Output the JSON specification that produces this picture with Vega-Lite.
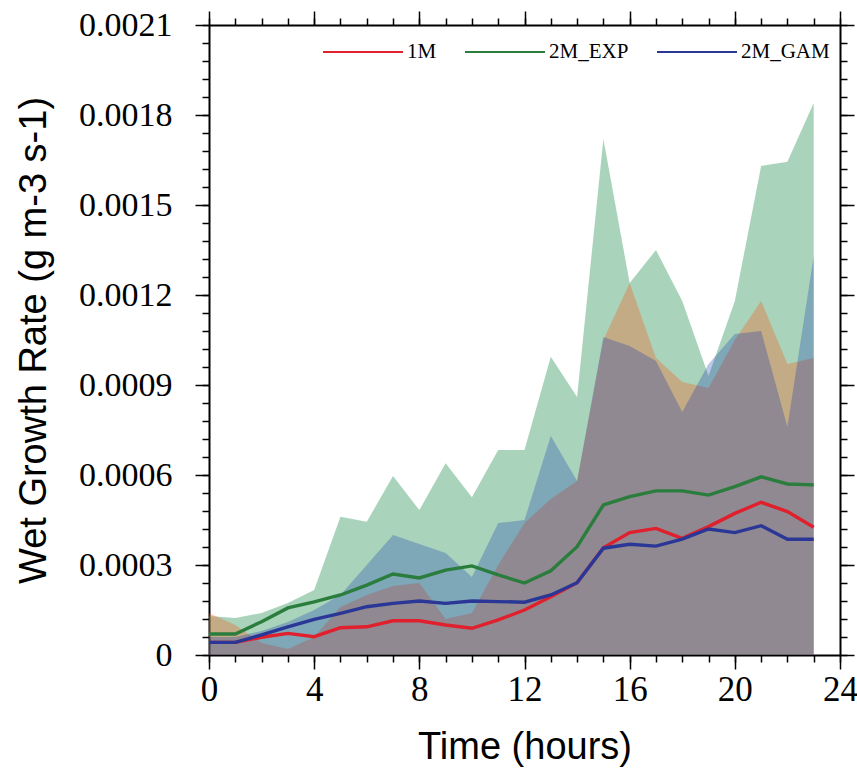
{
  "$schema": "https://vega.github.io/schema/vega-lite/v6.json",
  "width": 631,
  "height": 630,
  "autosize": {"type": "none"},
  "padding": {"left": 209, "top": 25, "right": 17, "bottom": 122},
  "background": "white",
  "config": {
    "view": {"stroke": null},
    "axis": {"grid": false, "domainColor": "black", "tickColor": "black", "domainWidth": 2, "tickWidth": 1.5, "labelColor": "black", "titleColor": "black", "labelFlush": false, "labelOverlap": false}
  },
  "data": {"values": [
    {"t":0,"s":"1M","m":0.000042,"lo":0,"hi":0.00014},
    {"t":1,"s":"1M","m":0.000042,"lo":0,"hi":0.0001},
    {"t":2,"s":"1M","m":0.000059,"lo":0,"hi":0.00004},
    {"t":3,"s":"1M","m":0.000072,"lo":0,"hi":0.00002},
    {"t":4,"s":"1M","m":0.000061,"lo":0,"hi":0.00006},
    {"t":5,"s":"1M","m":0.000091,"lo":0,"hi":0.00016},
    {"t":6,"s":"1M","m":0.000094,"lo":0,"hi":0.0002},
    {"t":7,"s":"1M","m":0.000114,"lo":0,"hi":0.00023},
    {"t":8,"s":"1M","m":0.000114,"lo":0,"hi":0.00024},
    {"t":9,"s":"1M","m":0.0001,"lo":0,"hi":0.00012},
    {"t":10,"s":"1M","m":0.000089,"lo":0,"hi":0.00014},
    {"t":11,"s":"1M","m":0.000117,"lo":0,"hi":0.0003},
    {"t":12,"s":"1M","m":0.00015,"lo":0,"hi":0.00044},
    {"t":13,"s":"1M","m":0.000194,"lo":0,"hi":0.00052},
    {"t":14,"s":"1M","m":0.000241,"lo":0,"hi":0.00058},
    {"t":15,"s":"1M","m":0.000357,"lo":0,"hi":0.00105},
    {"t":16,"s":"1M","m":0.000408,"lo":0,"hi":0.00124},
    {"t":17,"s":"1M","m":0.000422,"lo":0,"hi":0.00099},
    {"t":18,"s":"1M","m":0.000389,"lo":0,"hi":0.00091},
    {"t":19,"s":"1M","m":0.000428,"lo":0,"hi":0.00089},
    {"t":20,"s":"1M","m":0.000472,"lo":0,"hi":0.00105},
    {"t":21,"s":"1M","m":0.000509,"lo":0,"hi":0.00118},
    {"t":22,"s":"1M","m":0.000478,"lo":0,"hi":0.00097},
    {"t":23,"s":"1M","m":0.000426,"lo":0,"hi":0.00099},
    {"t":0,"s":"2M_EXP","m":0.00007,"lo":0,"hi":0.00013},
    {"t":1,"s":"2M_EXP","m":0.00007,"lo":0,"hi":0.000123},
    {"t":2,"s":"2M_EXP","m":0.000111,"lo":0,"hi":0.00014},
    {"t":3,"s":"2M_EXP","m":0.000157,"lo":0,"hi":0.000173},
    {"t":4,"s":"2M_EXP","m":0.000177,"lo":0,"hi":0.000217},
    {"t":5,"s":"2M_EXP","m":0.0002,"lo":0,"hi":0.000461},
    {"t":6,"s":"2M_EXP","m":0.000233,"lo":0,"hi":0.000444},
    {"t":7,"s":"2M_EXP","m":0.00027,"lo":0,"hi":0.000597},
    {"t":8,"s":"2M_EXP","m":0.000257,"lo":0,"hi":0.000483},
    {"t":9,"s":"2M_EXP","m":0.000283,"lo":0,"hi":0.000639},
    {"t":10,"s":"2M_EXP","m":0.000297,"lo":0,"hi":0.000526},
    {"t":11,"s":"2M_EXP","m":0.000267,"lo":0,"hi":0.000683},
    {"t":12,"s":"2M_EXP","m":0.00024,"lo":0,"hi":0.000683},
    {"t":13,"s":"2M_EXP","m":0.000281,"lo":0,"hi":0.000994},
    {"t":14,"s":"2M_EXP","m":0.000361,"lo":0,"hi":0.00086},
    {"t":15,"s":"2M_EXP","m":0.0005,"lo":0,"hi":0.00172},
    {"t":16,"s":"2M_EXP","m":0.000528,"lo":0,"hi":0.00124},
    {"t":17,"s":"2M_EXP","m":0.000547,"lo":0,"hi":0.00135},
    {"t":18,"s":"2M_EXP","m":0.000547,"lo":0,"hi":0.00118},
    {"t":19,"s":"2M_EXP","m":0.000533,"lo":0,"hi":0.00093},
    {"t":20,"s":"2M_EXP","m":0.000561,"lo":0,"hi":0.00118},
    {"t":21,"s":"2M_EXP","m":0.000594,"lo":0,"hi":0.00163},
    {"t":22,"s":"2M_EXP","m":0.00057,"lo":0,"hi":0.001644},
    {"t":23,"s":"2M_EXP","m":0.000567,"lo":0,"hi":0.00184},
    {"t":0,"s":"2M_GAM","m":0.000042,"lo":0,"hi":0.00006},
    {"t":1,"s":"2M_GAM","m":0.000042,"lo":0,"hi":0.00006},
    {"t":2,"s":"2M_GAM","m":0.000067,"lo":0,"hi":0.00008},
    {"t":3,"s":"2M_GAM","m":0.000094,"lo":0,"hi":0.00011},
    {"t":4,"s":"2M_GAM","m":0.000119,"lo":0,"hi":0.00015},
    {"t":5,"s":"2M_GAM","m":0.000139,"lo":0,"hi":0.0002},
    {"t":6,"s":"2M_GAM","m":0.000161,"lo":0,"hi":0.0003},
    {"t":7,"s":"2M_GAM","m":0.000172,"lo":0,"hi":0.0004},
    {"t":8,"s":"2M_GAM","m":0.00018,"lo":0,"hi":0.00037},
    {"t":9,"s":"2M_GAM","m":0.000172,"lo":0,"hi":0.00034},
    {"t":10,"s":"2M_GAM","m":0.00018,"lo":0,"hi":0.00026},
    {"t":11,"s":"2M_GAM","m":0.000178,"lo":0,"hi":0.00044},
    {"t":12,"s":"2M_GAM","m":0.000176,"lo":0,"hi":0.00045},
    {"t":13,"s":"2M_GAM","m":0.0002,"lo":0,"hi":0.00073},
    {"t":14,"s":"2M_GAM","m":0.000241,"lo":0,"hi":0.00058},
    {"t":15,"s":"2M_GAM","m":0.000356,"lo":0,"hi":0.00106},
    {"t":16,"s":"2M_GAM","m":0.000369,"lo":0,"hi":0.00103},
    {"t":17,"s":"2M_GAM","m":0.000363,"lo":0,"hi":0.00098},
    {"t":18,"s":"2M_GAM","m":0.000386,"lo":0,"hi":0.00081},
    {"t":19,"s":"2M_GAM","m":0.00042,"lo":0,"hi":0.00097},
    {"t":20,"s":"2M_GAM","m":0.000408,"lo":0,"hi":0.00107},
    {"t":21,"s":"2M_GAM","m":0.000431,"lo":0,"hi":0.00108},
    {"t":22,"s":"2M_GAM","m":0.000386,"lo":0,"hi":0.00076},
    {"t":23,"s":"2M_GAM","m":0.000386,"lo":0,"hi":0.00133}
  ]},
  "resolve": {"axis": {"x": "independent", "y": "independent"}},
  "layer": [
    {
      "transform": [{"filter": "datum.s === '2M_EXP'"}],
      "mark": {"type": "area", "color": "rgb(40,148,85)", "opacity": 0.4},
      "encoding": {
        "x": {"field": "t", "type": "quantitative", "scale": {"domain": [0, 24], "nice": false},
          "axis": {"orient": "bottom", "values": [0,4,8,12,16,20,24], "tickSize": 14, "labelFont": "Liberation Serif", "labelFontSize": 35, "labelPadding": 3, "title": "Time (hours)", "titleFont": "Liberation Sans", "titleFontSize": 38, "titleFontWeight": "normal", "titlePadding": 21}},
        "y": {"field": "hi", "type": "quantitative", "scale": {"domain": [0, 0.0021], "nice": false},
          "axis": {"orient": "left", "values": [0,0.0003,0.0006,0.0009,0.0012,0.0015,0.0018,0.0021], "format": ".4~f", "tickSize": 14, "labelFont": "Liberation Serif", "labelFontSize": 34, "labelPadding": 23, "title": "Wet Growth Rate (g m-3 s-1)", "titleFont": "Liberation Sans", "titleFontSize": 38, "titleFontWeight": "normal", "titlePadding": 25}},
        "y2": {"field": "lo"}
      }
    },
    {
      "transform": [{"filter": "datum.s === '1M'"}],
      "mark": {"type": "area", "color": "rgb(255,75,10)", "opacity": 0.3},
      "encoding": {
        "x": {"field": "t", "type": "quantitative", "axis": {"orient": "top", "values": [0,4,8,12,16,20,24], "tickSize": 14, "labels": false, "title": null}},
        "y": {"field": "hi", "type": "quantitative", "axis": {"orient": "right", "values": [0,0.0003,0.0006,0.0009,0.0012,0.0015,0.0018,0.0021], "tickSize": 14, "labels": false, "title": null}},
        "y2": {"field": "lo"}
      }
    },
    {
      "transform": [{"filter": "datum.s === '2M_GAM'"}],
      "mark": {"type": "area", "color": "rgb(15,51,176)", "opacity": 0.28},
      "encoding": {
        "x": {"field": "t", "type": "quantitative", "axis": {"orient": "bottom", "values": [0,1,2,3,4,5,6,7,8,9,10,11,12,13,14,15,16,17,18,19,20,21,22,23,24], "tickSize": 7, "labels": false, "domain": false, "title": null}},
        "y": {"field": "hi", "type": "quantitative", "axis": {"orient": "left", "values": [0,0.00006,0.00012,0.00018,0.00024,0.0003,0.00036,0.00042,0.00048,0.00054,0.0006,0.00066,0.00072,0.00078,0.00084,0.0009,0.00096,0.00102,0.00108,0.00114,0.0012,0.00126,0.00132,0.00138,0.00144,0.0015,0.00156,0.00162,0.00168,0.00174,0.0018,0.00186,0.00192,0.00198,0.00204,0.0021], "tickSize": 7, "labels": false, "domain": false, "title": null}},
        "y2": {"field": "lo"}
      }
    },
    {
      "mark": {"type": "line", "strokeWidth": 3.4},
      "encoding": {
        "x": {"field": "t", "type": "quantitative", "axis": {"orient": "top", "values": [0,1,2,3,4,5,6,7,8,9,10,11,12,13,14,15,16,17,18,19,20,21,22,23,24], "tickSize": 7, "labels": false, "domain": false, "title": null}},
        "y": {"field": "m", "type": "quantitative", "axis": {"orient": "right", "values": [0,0.00006,0.00012,0.00018,0.00024,0.0003,0.00036,0.00042,0.00048,0.00054,0.0006,0.00066,0.00072,0.00078,0.00084,0.0009,0.00096,0.00102,0.00108,0.00114,0.0012,0.00126,0.00132,0.00138,0.00144,0.0015,0.00156,0.00162,0.00168,0.00174,0.0018,0.00186,0.00192,0.00198,0.00204,0.0021], "tickSize": 7, "labels": false, "domain": false, "title": null}},
        "color": {"field": "s", "type": "nominal",
          "scale": {"domain": ["1M", "2M_EXP", "2M_GAM"], "range": ["#e0202c", "#2a7d3c", "#2a3796"]},
          "legend": {"orient": "none", "legendX": 113, "legendY": -14, "direction": "horizontal", "title": null, "symbolType": "stroke", "symbolSize": 6400, "symbolStrokeWidth": 2, "labelFont": "Liberation Serif", "labelFontSize": 21, "labelColor": "black", "labelOffset": 3, "columnPadding": 24}}
      }
    }
  ]
}
